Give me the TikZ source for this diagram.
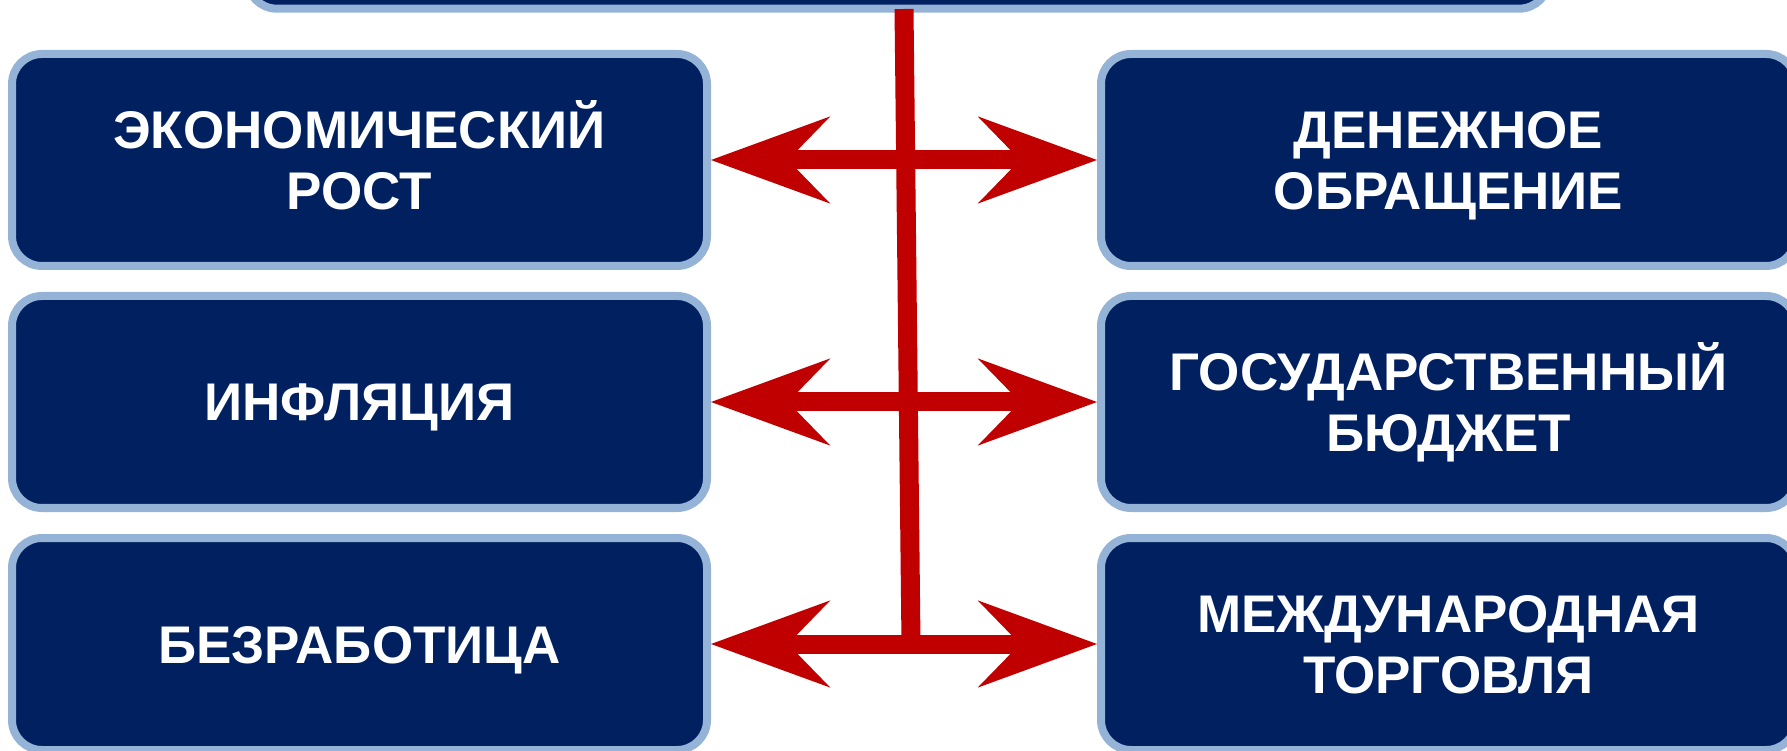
\documentclass[tikz,border=0pt]{standalone}
\usepackage{fontspec}
\setmainfont{Liberation Sans}
\usetikzlibrary{arrows.meta}
\definecolor{navy}{RGB}{0,32,96}
\definecolor{lightb}{RGB}{149,179,215}
\definecolor{darkred}{RGB}{192,0,0}
\begin{document}
\begin{tikzpicture}[x=1pt,y=1pt,
  box/.style={draw=lightb, line width=8pt, fill=navy, rounded corners=30pt,
    minimum width=695pt, minimum height=212pt, inner sep=0pt,
    text=white, align=center, font=\fontsize{53}{61.5}\selectfont\bfseries},
  oneline/.style={text height=38pt, text depth=0pt},
  twoline/.style={text height=99.5pt, text depth=0pt},
  link/.style={draw=darkred, line width=19pt},
  dbl/.style={link, arrows={Stealth[length=119.4pt,width=87.3pt,inset=42.5pt,line width=0pt]-Stealth[length=119.4pt,width=87.3pt,inset=42.5pt,line width=0pt]}}
]
\useasboundingbox (0,0) rectangle (1787,750);
\clip (0,0) rectangle (1787,750);

\node[box, minimum width=1302pt, minimum height=300pt] (top) at (898,891.3) {};

\node[box, twoline] (L1) at (359.5,590) {ЭКОНОМИЧЕСКИЙ\\РОСТ};
\node[box, oneline] (L2) at (359.5,348) {ИНФЛЯЦИЯ};
\node[box, oneline] (L3) at (359.5,106) {БЕЗРАБОТИЦА};
\node[box, twoline] (R1) at (1448.5,590) {ДЕНЕЖНОЕ\\ОБРАЩЕНИЕ};
\node[box, twoline] (R2) at (1448.5,348) {ГОСУДАРСТВЕННЫЙ\\БЮДЖЕТ};
\node[box, twoline] (R3) at (1448.5,106) {МЕЖДУНАРОДНАЯ\\ТОРГОВЛЯ};

\coordinate (vt) at (904,741);
\coordinate (vb) at (911,106);
\draw[link] (vt) -- (vb);

\draw[dbl] (L1.east) -- (R1.west);
\draw[dbl] (L2.east) -- (R2.west);
\draw[dbl] (L3.east) -- (R3.west);
\end{tikzpicture}
\end{document}
